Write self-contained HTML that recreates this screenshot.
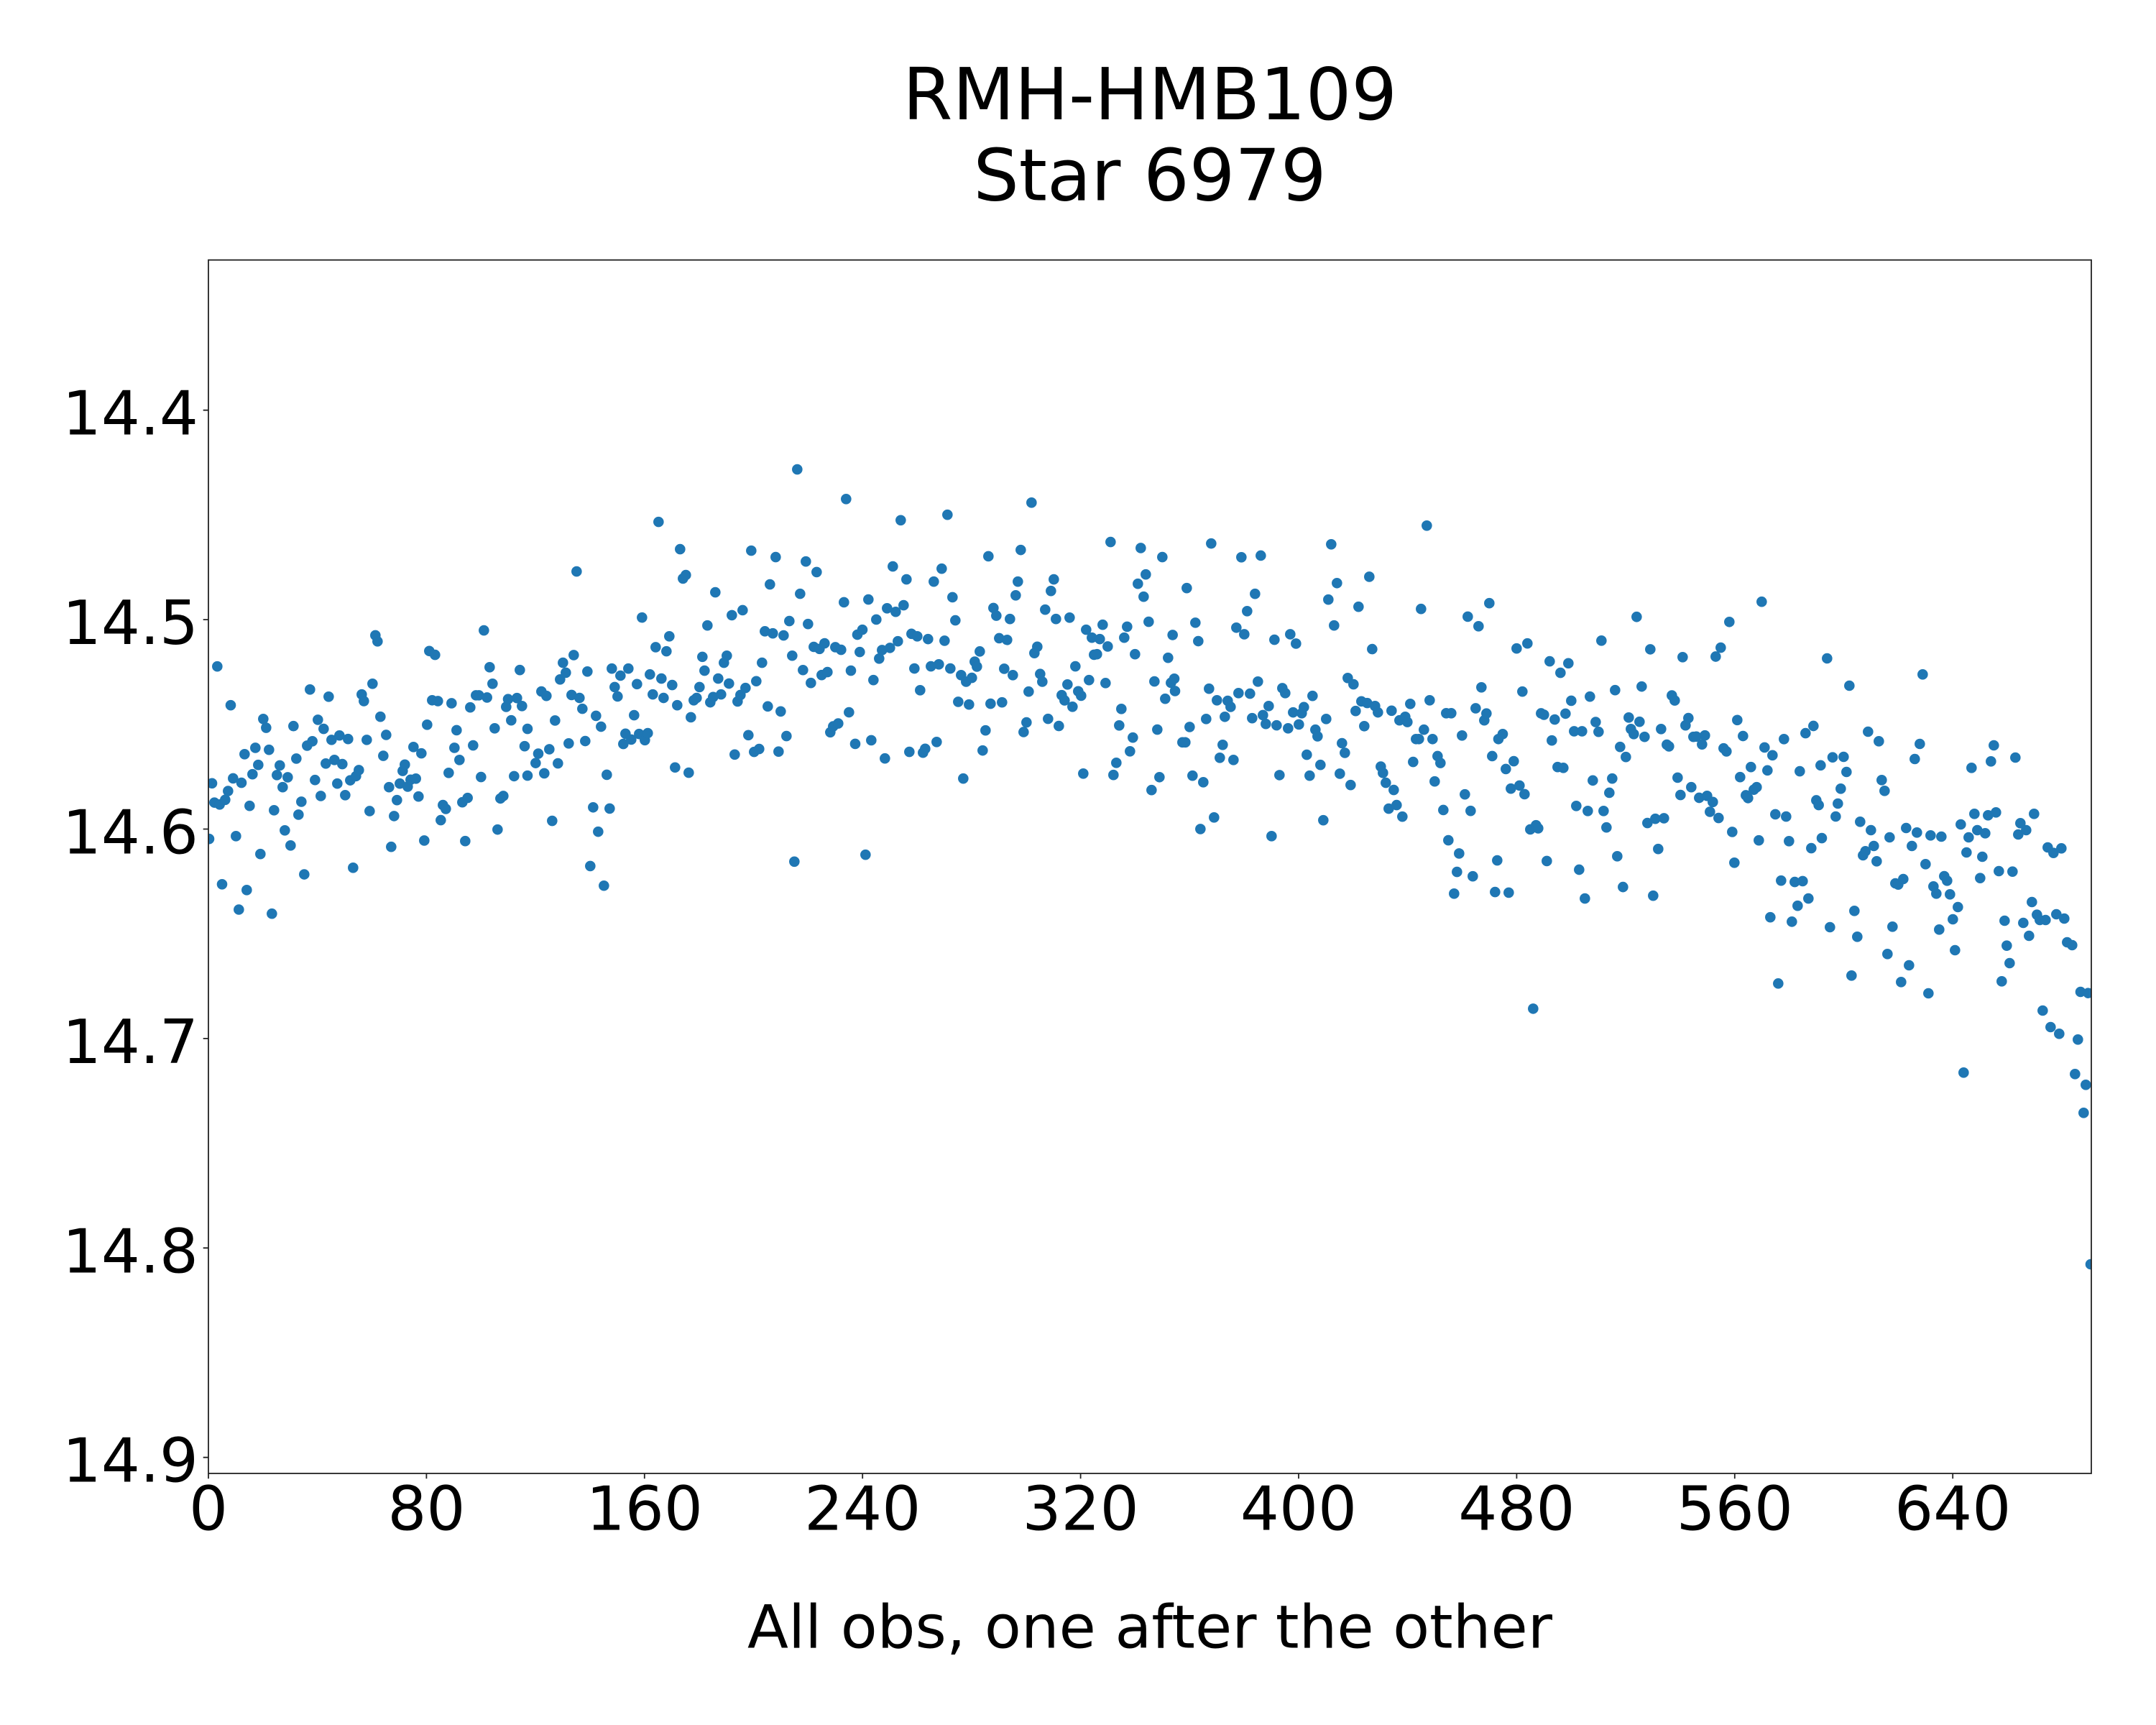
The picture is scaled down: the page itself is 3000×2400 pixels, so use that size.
<!DOCTYPE html>
<html><head><meta charset="utf-8"><style>html,body{margin:0;padding:0;background:#fff}svg{display:block}</style></head>
<body>
<svg xmlns="http://www.w3.org/2000/svg" width="3000" height="2400" viewBox="0 0 3000 2400">
<rect width="3000" height="2400" fill="#fff"/>
<defs><clipPath id="c"><rect x="290" y="361.7" width="2620" height="1688.3"/></clipPath></defs>
<g clip-path="url(#c)" fill="#1f77b4">
<g transform="translate(285 750) scale(0.333333 0.382702)">
<ellipse cx="30" cy="888" rx="21.9" ry="19.1"/><ellipse cx="52" cy="463" rx="21.9" ry="19.1"/><ellipse cx="18" cy="1090" rx="21.9" ry="19.1"/><ellipse cx="40" cy="958" rx="21.9" ry="19.1"/><ellipse cx="62" cy="965" rx="21.9" ry="19.1"/><ellipse cx="85" cy="948" rx="21.9" ry="19.1"/><ellipse cx="97" cy="916" rx="21.9" ry="19.1"/><ellipse cx="108" cy="604" rx="21.9" ry="19.1"/><ellipse cx="118" cy="870" rx="21.9" ry="19.1"/><ellipse cx="72" cy="1255" rx="21.9" ry="19.1"/><ellipse cx="130" cy="1080" rx="21.9" ry="19.1"/><ellipse cx="142" cy="1347" rx="21.9" ry="19.1"/><ellipse cx="153" cy="886" rx="21.9" ry="19.1"/><ellipse cx="166" cy="782" rx="21.9" ry="19.1"/><ellipse cx="175" cy="1276" rx="21.9" ry="19.1"/><ellipse cx="187" cy="970" rx="21.9" ry="19.1"/><ellipse cx="199" cy="855" rx="21.9" ry="19.1"/><ellipse cx="211" cy="759" rx="21.9" ry="19.1"/><ellipse cx="223" cy="821" rx="21.9" ry="19.1"/><ellipse cx="232" cy="1145" rx="21.9" ry="19.1"/><ellipse cx="244" cy="654" rx="21.9" ry="19.1"/><ellipse cx="256" cy="686" rx="21.9" ry="19.1"/><ellipse cx="268" cy="766" rx="21.9" ry="19.1"/><ellipse cx="280" cy="1362" rx="21.9" ry="19.1"/><ellipse cx="289" cy="986" rx="21.9" ry="19.1"/><ellipse cx="301" cy="858" rx="21.9" ry="19.1"/><ellipse cx="313" cy="823" rx="21.9" ry="19.1"/><ellipse cx="325" cy="902" rx="21.9" ry="19.1"/><ellipse cx="334" cy="1059" rx="21.9" ry="19.1"/><ellipse cx="346" cy="866" rx="21.9" ry="19.1"/><ellipse cx="358" cy="1114" rx="21.9" ry="19.1"/><ellipse cx="370" cy="680" rx="21.9" ry="19.1"/><ellipse cx="382" cy="798" rx="21.9" ry="19.1"/><ellipse cx="391" cy="1002" rx="21.9" ry="19.1"/><ellipse cx="403" cy="955" rx="21.9" ry="19.1"/><ellipse cx="415" cy="1219" rx="21.9" ry="19.1"/><ellipse cx="427" cy="751" rx="21.9" ry="19.1"/><ellipse cx="439" cy="547" rx="21.9" ry="19.1"/><ellipse cx="449" cy="735" rx="21.9" ry="19.1"/><ellipse cx="460" cy="876" rx="21.9" ry="19.1"/><ellipse cx="472" cy="657" rx="21.9" ry="19.1"/><ellipse cx="484" cy="934" rx="21.9" ry="19.1"/><ellipse cx="496" cy="690" rx="21.9" ry="19.1"/><ellipse cx="505" cy="816" rx="21.9" ry="19.1"/><ellipse cx="517" cy="573" rx="21.9" ry="19.1"/><ellipse cx="529" cy="730" rx="21.9" ry="19.1"/><ellipse cx="541" cy="803" rx="21.9" ry="19.1"/><ellipse cx="553" cy="889" rx="21.9" ry="19.1"/><ellipse cx="562" cy="714" rx="21.9" ry="19.1"/><ellipse cx="574" cy="818" rx="21.9" ry="19.1"/><ellipse cx="586" cy="931" rx="21.9" ry="19.1"/><ellipse cx="598" cy="727" rx="21.9" ry="19.1"/><ellipse cx="607" cy="877" rx="21.9" ry="19.1"/><ellipse cx="619" cy="1195" rx="21.9" ry="19.1"/><ellipse cx="631" cy="862" rx="21.9" ry="19.1"/><ellipse cx="643" cy="840" rx="21.9" ry="19.1"/><ellipse cx="655" cy="565" rx="21.9" ry="19.1"/><ellipse cx="664" cy="589" rx="21.9" ry="19.1"/><ellipse cx="676" cy="730" rx="21.9" ry="19.1"/><ellipse cx="688" cy="989" rx="21.9" ry="19.1"/><ellipse cx="700" cy="526" rx="21.9" ry="19.1"/><ellipse cx="712" cy="350" rx="21.9" ry="19.1"/><ellipse cx="721" cy="372" rx="21.9" ry="19.1"/><ellipse cx="733" cy="646" rx="21.9" ry="19.1"/><ellipse cx="745" cy="788" rx="21.9" ry="19.1"/><ellipse cx="757" cy="712" rx="21.9" ry="19.1"/><ellipse cx="769" cy="902" rx="21.9" ry="19.1"/><ellipse cx="778" cy="1119" rx="21.9" ry="19.1"/><ellipse cx="790" cy="1007" rx="21.9" ry="19.1"/><ellipse cx="802" cy="949" rx="21.9" ry="19.1"/><ellipse cx="814" cy="889" rx="21.9" ry="19.1"/><ellipse cx="826" cy="843" rx="21.9" ry="19.1"/><ellipse cx="835" cy="820" rx="21.9" ry="19.1"/><ellipse cx="847" cy="900" rx="21.9" ry="19.1"/><ellipse cx="859" cy="875" rx="21.9" ry="19.1"/><ellipse cx="871" cy="756" rx="21.9" ry="19.1"/><ellipse cx="881" cy="871" rx="21.9" ry="19.1"/><ellipse cx="892" cy="936" rx="21.9" ry="19.1"/><ellipse cx="904" cy="779" rx="21.9" ry="19.1"/><ellipse cx="916" cy="1096" rx="21.9" ry="19.1"/><ellipse cx="928" cy="675" rx="21.9" ry="19.1"/><ellipse cx="937" cy="407" rx="21.9" ry="19.1"/><ellipse cx="961" cy="421" rx="21.9" ry="19.1"/><ellipse cx="949" cy="586" rx="21.9" ry="19.1"/><ellipse cx="973" cy="589" rx="21.9" ry="19.1"/><ellipse cx="985" cy="1022" rx="21.9" ry="19.1"/><ellipse cx="994" cy="967" rx="21.9" ry="19.1"/><ellipse cx="1006" cy="981" rx="21.9" ry="19.1"/><ellipse cx="1018" cy="850" rx="21.9" ry="19.1"/><ellipse cx="1030" cy="597" rx="21.9" ry="19.1"/><ellipse cx="1042" cy="759" rx="21.9" ry="19.1"/><ellipse cx="1051" cy="695" rx="21.9" ry="19.1"/><ellipse cx="1063" cy="803" rx="21.9" ry="19.1"/><ellipse cx="1075" cy="957" rx="21.9" ry="19.1"/><ellipse cx="1087" cy="1098" rx="21.9" ry="19.1"/><ellipse cx="1097" cy="941" rx="21.9" ry="19.1"/><ellipse cx="1108" cy="612" rx="21.9" ry="19.1"/><ellipse cx="1120" cy="750" rx="21.9" ry="19.1"/><ellipse cx="1132" cy="568" rx="21.9" ry="19.1"/><ellipse cx="1144" cy="568" rx="21.9" ry="19.1"/><ellipse cx="1153" cy="865" rx="21.9" ry="19.1"/><ellipse cx="1165" cy="332" rx="21.9" ry="19.1"/><ellipse cx="1178" cy="576" rx="21.9" ry="19.1"/><ellipse cx="1189" cy="466" rx="21.9" ry="19.1"/><ellipse cx="1201" cy="526" rx="21.9" ry="19.1"/><ellipse cx="1210" cy="688" rx="21.9" ry="19.1"/><ellipse cx="1222" cy="1056" rx="21.9" ry="19.1"/><ellipse cx="1234" cy="943" rx="21.9" ry="19.1"/><ellipse cx="1246" cy="934" rx="21.9" ry="19.1"/><ellipse cx="1258" cy="610" rx="21.9" ry="19.1"/><ellipse cx="1266" cy="582" rx="21.9" ry="19.1"/><ellipse cx="1279" cy="659" rx="21.9" ry="19.1"/><ellipse cx="1291" cy="862" rx="21.9" ry="19.1"/><ellipse cx="1303" cy="578" rx="21.9" ry="19.1"/><ellipse cx="1315" cy="476" rx="21.9" ry="19.1"/><ellipse cx="1324" cy="607" rx="21.9" ry="19.1"/><ellipse cx="1335" cy="753" rx="21.9" ry="19.1"/><ellipse cx="1347" cy="690" rx="21.9" ry="19.1"/><ellipse cx="1347" cy="860" rx="21.9" ry="19.1"/>
</g>
<g transform="translate(735 620) scale(0.333333 0.408163)">
<ellipse cx="42" cy="1050" rx="21.9" ry="17.9"/><ellipse cx="31" cy="1082" rx="21.9" ry="17.9"/><ellipse cx="55" cy="838" rx="21.9" ry="17.9"/><ellipse cx="76" cy="853" rx="21.9" ry="17.9"/><ellipse cx="67" cy="1117" rx="21.9" ry="17.9"/><ellipse cx="88" cy="1035" rx="21.9" ry="17.9"/><ellipse cx="100" cy="1279" rx="21.9" ry="17.9"/><ellipse cx="112" cy="937" rx="21.9" ry="17.9"/><ellipse cx="124" cy="1083" rx="21.9" ry="17.9"/><ellipse cx="133" cy="797" rx="21.9" ry="17.9"/><ellipse cx="145" cy="740" rx="21.9" ry="17.9"/><ellipse cx="157" cy="774" rx="21.9" ry="17.9"/><ellipse cx="169" cy="1015" rx="21.9" ry="17.9"/><ellipse cx="181" cy="850" rx="21.9" ry="17.9"/><ellipse cx="190" cy="714" rx="21.9" ry="17.9"/><ellipse cx="202" cy="429" rx="21.9" ry="17.9"/><ellipse cx="214" cy="860" rx="21.9" ry="17.9"/><ellipse cx="226" cy="897" rx="21.9" ry="17.9"/><ellipse cx="238" cy="1007" rx="21.9" ry="17.9"/><ellipse cx="247" cy="770" rx="21.9" ry="17.9"/><ellipse cx="259" cy="1433" rx="21.9" ry="17.9"/><ellipse cx="271" cy="1233" rx="21.9" ry="17.9"/><ellipse cx="283" cy="921" rx="21.9" ry="17.9"/><ellipse cx="292" cy="1316" rx="21.9" ry="17.9"/><ellipse cx="304" cy="958" rx="21.9" ry="17.9"/><ellipse cx="316" cy="1500" rx="21.9" ry="17.9"/><ellipse cx="328" cy="1122" rx="21.9" ry="17.9"/><ellipse cx="340" cy="1237" rx="21.9" ry="17.9"/><ellipse cx="349" cy="760" rx="21.9" ry="17.9"/><ellipse cx="361" cy="823" rx="21.9" ry="17.9"/><ellipse cx="373" cy="855" rx="21.9" ry="17.9"/><ellipse cx="385" cy="784" rx="21.9" ry="17.9"/><ellipse cx="397" cy="1017" rx="21.9" ry="17.9"/><ellipse cx="406" cy="982" rx="21.9" ry="17.9"/><ellipse cx="418" cy="760" rx="21.9" ry="17.9"/><ellipse cx="430" cy="1002" rx="21.9" ry="17.9"/><ellipse cx="442" cy="919" rx="21.9" ry="17.9"/><ellipse cx="454" cy="813" rx="21.9" ry="17.9"/><ellipse cx="463" cy="983" rx="21.9" ry="17.9"/><ellipse cx="475" cy="586" rx="21.9" ry="17.9"/><ellipse cx="487" cy="1004" rx="21.9" ry="17.9"/><ellipse cx="499" cy="980" rx="21.9" ry="17.9"/><ellipse cx="508" cy="780" rx="21.9" ry="17.9"/><ellipse cx="520" cy="848" rx="21.9" ry="17.9"/><ellipse cx="532" cy="687" rx="21.9" ry="17.9"/><ellipse cx="544" cy="260" rx="21.9" ry="17.9"/><ellipse cx="556" cy="794" rx="21.9" ry="17.9"/><ellipse cx="565" cy="860" rx="21.9" ry="17.9"/><ellipse cx="577" cy="701" rx="21.9" ry="17.9"/><ellipse cx="589" cy="650" rx="21.9" ry="17.9"/><ellipse cx="601" cy="816" rx="21.9" ry="17.9"/><ellipse cx="613" cy="1097" rx="21.9" ry="17.9"/><ellipse cx="622" cy="885" rx="21.9" ry="17.9"/><ellipse cx="634" cy="353" rx="21.9" ry="17.9"/><ellipse cx="646" cy="453" rx="21.9" ry="17.9"/><ellipse cx="658" cy="441" rx="21.9" ry="17.9"/><ellipse cx="670" cy="1115" rx="21.9" ry="17.9"/><ellipse cx="679" cy="926" rx="21.9" ry="17.9"/><ellipse cx="691" cy="868" rx="21.9" ry="17.9"/><ellipse cx="703" cy="860" rx="21.9" ry="17.9"/><ellipse cx="715" cy="823" rx="21.9" ry="17.9"/><ellipse cx="727" cy="720" rx="21.9" ry="17.9"/><ellipse cx="736" cy="767" rx="21.9" ry="17.9"/><ellipse cx="748" cy="613" rx="21.9" ry="17.9"/><ellipse cx="760" cy="875" rx="21.9" ry="17.9"/><ellipse cx="772" cy="857" rx="21.9" ry="17.9"/><ellipse cx="781" cy="500" rx="21.9" ry="17.9"/><ellipse cx="793" cy="794" rx="21.9" ry="17.9"/><ellipse cx="805" cy="848" rx="21.9" ry="17.9"/><ellipse cx="817" cy="740" rx="21.9" ry="17.9"/><ellipse cx="829" cy="716" rx="21.9" ry="17.9"/><ellipse cx="838" cy="811" rx="21.9" ry="17.9"/><ellipse cx="850" cy="578" rx="21.9" ry="17.9"/><ellipse cx="862" cy="1053" rx="21.9" ry="17.9"/><ellipse cx="874" cy="872" rx="21.9" ry="17.9"/><ellipse cx="886" cy="850" rx="21.9" ry="17.9"/><ellipse cx="895" cy="561" rx="21.9" ry="17.9"/><ellipse cx="907" cy="826" rx="21.9" ry="17.9"/><ellipse cx="919" cy="987" rx="21.9" ry="17.9"/><ellipse cx="931" cy="358" rx="21.9" ry="17.9"/><ellipse cx="943" cy="1044" rx="21.9" ry="17.9"/><ellipse cx="952" cy="803" rx="21.9" ry="17.9"/><ellipse cx="964" cy="1034" rx="21.9" ry="17.9"/><ellipse cx="976" cy="740" rx="21.9" ry="17.9"/><ellipse cx="988" cy="633" rx="21.9" ry="17.9"/><ellipse cx="1000" cy="889" rx="21.9" ry="17.9"/><ellipse cx="1009" cy="473" rx="21.9" ry="17.9"/><ellipse cx="1021" cy="640" rx="21.9" ry="17.9"/><ellipse cx="1033" cy="380" rx="21.9" ry="17.9"/><ellipse cx="1045" cy="1043" rx="21.9" ry="17.9"/><ellipse cx="1054" cy="906" rx="21.9" ry="17.9"/><ellipse cx="1066" cy="647" rx="21.9" ry="17.9"/><ellipse cx="1078" cy="990" rx="21.9" ry="17.9"/><ellipse cx="1090" cy="598" rx="21.9" ry="17.9"/><ellipse cx="1102" cy="716" rx="21.9" ry="17.9"/><ellipse cx="1111" cy="1418" rx="21.9" ry="17.9"/><ellipse cx="1123" cy="81" rx="21.9" ry="17.9"/><ellipse cx="1135" cy="505" rx="21.9" ry="17.9"/><ellipse cx="1147" cy="765" rx="21.9" ry="17.9"/><ellipse cx="1159" cy="395" rx="21.9" ry="17.9"/><ellipse cx="1168" cy="608" rx="21.9" ry="17.9"/><ellipse cx="1180" cy="809" rx="21.9" ry="17.9"/><ellipse cx="1192" cy="686" rx="21.9" ry="17.9"/><ellipse cx="1204" cy="431" rx="21.9" ry="17.9"/><ellipse cx="1216" cy="693" rx="21.9" ry="17.9"/><ellipse cx="1225" cy="782" rx="21.9" ry="17.9"/><ellipse cx="1237" cy="674" rx="21.9" ry="17.9"/><ellipse cx="1249" cy="772" rx="21.9" ry="17.9"/><ellipse cx="1261" cy="977" rx="21.9" ry="17.9"/><ellipse cx="1273" cy="957" rx="21.9" ry="17.9"/><ellipse cx="1282" cy="687" rx="21.9" ry="17.9"/><ellipse cx="1294" cy="947" rx="21.9" ry="17.9"/><ellipse cx="1306" cy="696" rx="21.9" ry="17.9"/><ellipse cx="1318" cy="534" rx="21.9" ry="17.9"/><ellipse cx="1327" cy="182" rx="21.9" ry="17.9"/><ellipse cx="1339" cy="909" rx="21.9" ry="17.9"/><ellipse cx="1347" cy="767" rx="21.9" ry="17.9"/>
</g>
<g transform="translate(1185 640) scale(0.333333 0.382702)">
<ellipse cx="15" cy="1032" rx="21.9" ry="19.1"/><ellipse cx="24" cy="635" rx="21.9" ry="19.1"/><ellipse cx="45" cy="617" rx="21.9" ry="19.1"/><ellipse cx="34" cy="698" rx="21.9" ry="19.1"/><ellipse cx="58" cy="1435" rx="21.9" ry="19.1"/><ellipse cx="70" cy="507" rx="21.9" ry="19.1"/><ellipse cx="82" cy="1019" rx="21.9" ry="19.1"/><ellipse cx="91" cy="800" rx="21.9" ry="19.1"/><ellipse cx="103" cy="580" rx="21.9" ry="19.1"/><ellipse cx="115" cy="722" rx="21.9" ry="19.1"/><ellipse cx="127" cy="691" rx="21.9" ry="19.1"/><ellipse cx="139" cy="1085" rx="21.9" ry="19.1"/><ellipse cx="148" cy="539" rx="21.9" ry="19.1"/><ellipse cx="160" cy="683" rx="21.9" ry="19.1"/><ellipse cx="172" cy="387" rx="21.9" ry="19.1"/><ellipse cx="184" cy="552" rx="21.9" ry="19.1"/><ellipse cx="193" cy="659" rx="21.9" ry="19.1"/><ellipse cx="205" cy="219" rx="21.9" ry="19.1"/><ellipse cx="217" cy="528" rx="21.9" ry="19.1"/><ellipse cx="229" cy="434" rx="21.9" ry="19.1"/><ellipse cx="241" cy="1061" rx="21.9" ry="19.1"/><ellipse cx="250" cy="632" rx="21.9" ry="19.1"/><ellipse cx="262" cy="758" rx="21.9" ry="19.1"/><ellipse cx="274" cy="641" rx="21.9" ry="19.1"/><ellipse cx="286" cy="837" rx="21.9" ry="19.1"/><ellipse cx="298" cy="1064" rx="21.9" ry="19.1"/><ellipse cx="307" cy="1050" rx="21.9" ry="19.1"/><ellipse cx="319" cy="651" rx="21.9" ry="19.1"/><ellipse cx="331" cy="750" rx="21.9" ry="19.1"/><ellipse cx="343" cy="442" rx="21.9" ry="19.1"/><ellipse cx="355" cy="1025" rx="21.9" ry="19.1"/><ellipse cx="364" cy="743" rx="21.9" ry="19.1"/><ellipse cx="376" cy="395" rx="21.9" ry="19.1"/><ellipse cx="388" cy="657" rx="21.9" ry="19.1"/><ellipse cx="400" cy="199" rx="21.9" ry="19.1"/><ellipse cx="412" cy="758" rx="21.9" ry="19.1"/><ellipse cx="421" cy="499" rx="21.9" ry="19.1"/><ellipse cx="433" cy="583" rx="21.9" ry="19.1"/><ellipse cx="445" cy="879" rx="21.9" ry="19.1"/><ellipse cx="457" cy="782" rx="21.9" ry="19.1"/><ellipse cx="466" cy="1158" rx="21.9" ry="19.1"/><ellipse cx="478" cy="806" rx="21.9" ry="19.1"/><ellipse cx="490" cy="889" rx="21.9" ry="19.1"/><ellipse cx="502" cy="792" rx="21.9" ry="19.1"/><ellipse cx="514" cy="733" rx="21.9" ry="19.1"/><ellipse cx="523" cy="751" rx="21.9" ry="19.1"/><ellipse cx="535" cy="696" rx="21.9" ry="19.1"/><ellipse cx="547" cy="1056" rx="21.9" ry="19.1"/><ellipse cx="559" cy="983" rx="21.9" ry="19.1"/><ellipse cx="571" cy="350" rx="21.9" ry="19.1"/><ellipse cx="580" cy="886" rx="21.9" ry="19.1"/><ellipse cx="592" cy="538" rx="21.9" ry="19.1"/><ellipse cx="604" cy="566" rx="21.9" ry="19.1"/><ellipse cx="616" cy="648" rx="21.9" ry="19.1"/><ellipse cx="628" cy="881" rx="21.9" ry="19.1"/><ellipse cx="637" cy="759" rx="21.9" ry="19.1"/><ellipse cx="649" cy="654" rx="21.9" ry="19.1"/><ellipse cx="661" cy="578" rx="21.9" ry="19.1"/><ellipse cx="673" cy="782" rx="21.9" ry="19.1"/><ellipse cx="685" cy="492" rx="21.9" ry="19.1"/><ellipse cx="694" cy="442" rx="21.9" ry="19.1"/><ellipse cx="706" cy="327" rx="21.9" ry="19.1"/><ellipse cx="718" cy="989" rx="21.9" ry="19.1"/><ellipse cx="730" cy="954" rx="21.9" ry="19.1"/><ellipse cx="739" cy="842" rx="21.9" ry="19.1"/><ellipse cx="751" cy="155" rx="21.9" ry="19.1"/><ellipse cx="763" cy="702" rx="21.9" ry="19.1"/><ellipse cx="775" cy="679" rx="21.9" ry="19.1"/><ellipse cx="787" cy="778" rx="21.9" ry="19.1"/><ellipse cx="796" cy="806" rx="21.9" ry="19.1"/><ellipse cx="808" cy="544" rx="21.9" ry="19.1"/><ellipse cx="820" cy="941" rx="21.9" ry="19.1"/><ellipse cx="832" cy="476" rx="21.9" ry="19.1"/><ellipse cx="844" cy="434" rx="21.9" ry="19.1"/><ellipse cx="853" cy="578" rx="21.9" ry="19.1"/><ellipse cx="865" cy="967" rx="21.9" ry="19.1"/><ellipse cx="877" cy="855" rx="21.9" ry="19.1"/><ellipse cx="889" cy="874" rx="21.9" ry="19.1"/><ellipse cx="901" cy="816" rx="21.9" ry="19.1"/><ellipse cx="910" cy="573" rx="21.9" ry="19.1"/><ellipse cx="922" cy="897" rx="21.9" ry="19.1"/><ellipse cx="934" cy="750" rx="21.9" ry="19.1"/><ellipse cx="946" cy="841" rx="21.9" ry="19.1"/><ellipse cx="958" cy="857" rx="21.9" ry="19.1"/><ellipse cx="967" cy="1140" rx="21.9" ry="19.1"/><ellipse cx="979" cy="617" rx="21.9" ry="19.1"/><ellipse cx="991" cy="800" rx="21.9" ry="19.1"/><ellipse cx="1003" cy="646" rx="21.9" ry="19.1"/><ellipse cx="1012" cy="708" rx="21.9" ry="19.1"/><ellipse cx="1024" cy="706" rx="21.9" ry="19.1"/><ellipse cx="1036" cy="651" rx="21.9" ry="19.1"/><ellipse cx="1048" cy="599" rx="21.9" ry="19.1"/><ellipse cx="1060" cy="811" rx="21.9" ry="19.1"/><ellipse cx="1069" cy="678" rx="21.9" ry="19.1"/><ellipse cx="1081" cy="298" rx="21.9" ry="19.1"/><ellipse cx="1093" cy="1145" rx="21.9" ry="19.1"/><ellipse cx="1105" cy="1101" rx="21.9" ry="19.1"/><ellipse cx="1117" cy="965" rx="21.9" ry="19.1"/><ellipse cx="1126" cy="905" rx="21.9" ry="19.1"/><ellipse cx="1138" cy="646" rx="21.9" ry="19.1"/><ellipse cx="1150" cy="606" rx="21.9" ry="19.1"/><ellipse cx="1162" cy="1059" rx="21.9" ry="19.1"/><ellipse cx="1174" cy="1009" rx="21.9" ry="19.1"/><ellipse cx="1183" cy="706" rx="21.9" ry="19.1"/><ellipse cx="1195" cy="450" rx="21.9" ry="19.1"/><ellipse cx="1207" cy="320" rx="21.9" ry="19.1"/><ellipse cx="1219" cy="497" rx="21.9" ry="19.1"/><ellipse cx="1228" cy="416" rx="21.9" ry="19.1"/><ellipse cx="1240" cy="588" rx="21.9" ry="19.1"/><ellipse cx="1252" cy="1200" rx="21.9" ry="19.1"/><ellipse cx="1264" cy="805" rx="21.9" ry="19.1"/><ellipse cx="1276" cy="980" rx="21.9" ry="19.1"/><ellipse cx="1285" cy="1153" rx="21.9" ry="19.1"/><ellipse cx="1297" cy="353" rx="21.9" ry="19.1"/><ellipse cx="1309" cy="868" rx="21.9" ry="19.1"/><ellipse cx="1321" cy="719" rx="21.9" ry="19.1"/><ellipse cx="1333" cy="810" rx="21.9" ry="19.1"/><ellipse cx="1340" cy="636" rx="21.9" ry="19.1"/><ellipse cx="1347" cy="795" rx="21.9" ry="19.1"/><ellipse cx="1350" cy="840" rx="21.9" ry="19.1"/>
</g>
<g transform="translate(1635 680) scale(0.333333 0.382702)">
<ellipse cx="31" cy="922" rx="21.9" ry="19.1"/><ellipse cx="43" cy="922" rx="21.9" ry="19.1"/><ellipse cx="49" cy="361" rx="21.9" ry="19.1"/><ellipse cx="61" cy="866" rx="21.9" ry="19.1"/><ellipse cx="73" cy="1043" rx="21.9" ry="19.1"/><ellipse cx="85" cy="487" rx="21.9" ry="19.1"/><ellipse cx="97" cy="554" rx="21.9" ry="19.1"/><ellipse cx="106" cy="1237" rx="21.9" ry="19.1"/><ellipse cx="118" cy="1067" rx="21.9" ry="19.1"/><ellipse cx="130" cy="837" rx="21.9" ry="19.1"/><ellipse cx="142" cy="727" rx="21.9" ry="19.1"/><ellipse cx="151" cy="199" rx="21.9" ry="19.1"/><ellipse cx="163" cy="1195" rx="21.9" ry="19.1"/><ellipse cx="175" cy="769" rx="21.9" ry="19.1"/><ellipse cx="187" cy="978" rx="21.9" ry="19.1"/><ellipse cx="199" cy="931" rx="21.9" ry="19.1"/><ellipse cx="208" cy="829" rx="21.9" ry="19.1"/><ellipse cx="220" cy="771" rx="21.9" ry="19.1"/><ellipse cx="232" cy="793" rx="21.9" ry="19.1"/><ellipse cx="244" cy="986" rx="21.9" ry="19.1"/><ellipse cx="256" cy="505" rx="21.9" ry="19.1"/><ellipse cx="265" cy="743" rx="21.9" ry="19.1"/><ellipse cx="277" cy="249" rx="21.9" ry="19.1"/><ellipse cx="289" cy="529" rx="21.9" ry="19.1"/><ellipse cx="301" cy="445" rx="21.9" ry="19.1"/><ellipse cx="313" cy="745" rx="21.9" ry="19.1"/><ellipse cx="322" cy="834" rx="21.9" ry="19.1"/><ellipse cx="334" cy="382" rx="21.9" ry="19.1"/><ellipse cx="346" cy="701" rx="21.9" ry="19.1"/><ellipse cx="358" cy="243" rx="21.9" ry="19.1"/><ellipse cx="367" cy="823" rx="21.9" ry="19.1"/><ellipse cx="379" cy="855" rx="21.9" ry="19.1"/><ellipse cx="391" cy="790" rx="21.9" ry="19.1"/><ellipse cx="403" cy="1263" rx="21.9" ry="19.1"/><ellipse cx="415" cy="549" rx="21.9" ry="19.1"/><ellipse cx="424" cy="860" rx="21.9" ry="19.1"/><ellipse cx="436" cy="1041" rx="21.9" ry="19.1"/><ellipse cx="448" cy="725" rx="21.9" ry="19.1"/><ellipse cx="460" cy="743" rx="21.9" ry="19.1"/><ellipse cx="472" cy="871" rx="21.9" ry="19.1"/><ellipse cx="481" cy="529" rx="21.9" ry="19.1"/><ellipse cx="493" cy="813" rx="21.9" ry="19.1"/><ellipse cx="505" cy="563" rx="21.9" ry="19.1"/><ellipse cx="517" cy="857" rx="21.9" ry="19.1"/><ellipse cx="529" cy="816" rx="21.9" ry="19.1"/><ellipse cx="538" cy="794" rx="21.9" ry="19.1"/><ellipse cx="550" cy="967" rx="21.9" ry="19.1"/><ellipse cx="562" cy="1043" rx="21.9" ry="19.1"/><ellipse cx="574" cy="753" rx="21.9" ry="19.1"/><ellipse cx="586" cy="876" rx="21.9" ry="19.1"/><ellipse cx="595" cy="900" rx="21.9" ry="19.1"/><ellipse cx="607" cy="1004" rx="21.9" ry="19.1"/><ellipse cx="619" cy="1205" rx="21.9" ry="19.1"/><ellipse cx="631" cy="837" rx="21.9" ry="19.1"/><ellipse cx="640" cy="403" rx="21.9" ry="19.1"/><ellipse cx="652" cy="202" rx="21.9" ry="19.1"/><ellipse cx="664" cy="497" rx="21.9" ry="19.1"/><ellipse cx="676" cy="343" rx="21.9" ry="19.1"/><ellipse cx="688" cy="1036" rx="21.9" ry="19.1"/><ellipse cx="697" cy="925" rx="21.9" ry="19.1"/><ellipse cx="709" cy="960" rx="21.9" ry="19.1"/><ellipse cx="721" cy="688" rx="21.9" ry="19.1"/><ellipse cx="733" cy="1077" rx="21.9" ry="19.1"/><ellipse cx="745" cy="711" rx="21.9" ry="19.1"/><ellipse cx="754" cy="808" rx="21.9" ry="19.1"/><ellipse cx="766" cy="429" rx="21.9" ry="19.1"/><ellipse cx="778" cy="773" rx="21.9" ry="19.1"/><ellipse cx="790" cy="863" rx="21.9" ry="19.1"/><ellipse cx="802" cy="779" rx="21.9" ry="19.1"/><ellipse cx="811" cy="320" rx="21.9" ry="19.1"/><ellipse cx="823" cy="583" rx="21.9" ry="19.1"/><ellipse cx="835" cy="790" rx="21.9" ry="19.1"/><ellipse cx="847" cy="813" rx="21.9" ry="19.1"/><ellipse cx="859" cy="1010" rx="21.9" ry="19.1"/><ellipse cx="868" cy="1033" rx="21.9" ry="19.1"/><ellipse cx="880" cy="1069" rx="21.9" ry="19.1"/><ellipse cx="892" cy="1163" rx="21.9" ry="19.1"/><ellipse cx="904" cy="807" rx="21.9" ry="19.1"/><ellipse cx="913" cy="1095" rx="21.9" ry="19.1"/><ellipse cx="925" cy="1150" rx="21.9" ry="19.1"/><ellipse cx="937" cy="842" rx="21.9" ry="19.1"/><ellipse cx="949" cy="1192" rx="21.9" ry="19.1"/><ellipse cx="961" cy="829" rx="21.9" ry="19.1"/><ellipse cx="970" cy="848" rx="21.9" ry="19.1"/><ellipse cx="982" cy="782" rx="21.9" ry="19.1"/><ellipse cx="994" cy="993" rx="21.9" ry="19.1"/><ellipse cx="1006" cy="910" rx="21.9" ry="19.1"/><ellipse cx="1018" cy="910" rx="21.9" ry="19.1"/><ellipse cx="1027" cy="437" rx="21.9" ry="19.1"/><ellipse cx="1039" cy="876" rx="21.9" ry="19.1"/><ellipse cx="1051" cy="134" rx="21.9" ry="19.1"/><ellipse cx="1063" cy="769" rx="21.9" ry="19.1"/><ellipse cx="1075" cy="910" rx="21.9" ry="19.1"/><ellipse cx="1084" cy="1064" rx="21.9" ry="19.1"/><ellipse cx="1096" cy="972" rx="21.9" ry="19.1"/><ellipse cx="1108" cy="997" rx="21.9" ry="19.1"/><ellipse cx="1120" cy="1168" rx="21.9" ry="19.1"/><ellipse cx="1132" cy="816" rx="21.9" ry="19.1"/><ellipse cx="1141" cy="1278" rx="21.9" ry="19.1"/><ellipse cx="1153" cy="816" rx="21.9" ry="19.1"/><ellipse cx="1165" cy="1472" rx="21.9" ry="19.1"/><ellipse cx="1177" cy="1393" rx="21.9" ry="19.1"/><ellipse cx="1186" cy="1326" rx="21.9" ry="19.1"/><ellipse cx="1198" cy="897" rx="21.9" ry="19.1"/><ellipse cx="1210" cy="1111" rx="21.9" ry="19.1"/><ellipse cx="1222" cy="465" rx="21.9" ry="19.1"/><ellipse cx="1234" cy="1171" rx="21.9" ry="19.1"/><ellipse cx="1243" cy="1409" rx="21.9" ry="19.1"/><ellipse cx="1255" cy="798" rx="21.9" ry="19.1"/><ellipse cx="1267" cy="500" rx="21.9" ry="19.1"/><ellipse cx="1279" cy="722" rx="21.9" ry="19.1"/><ellipse cx="1291" cy="842" rx="21.9" ry="19.1"/><ellipse cx="1300" cy="817" rx="21.9" ry="19.1"/><ellipse cx="1312" cy="416" rx="21.9" ry="19.1"/><ellipse cx="1324" cy="972" rx="21.9" ry="19.1"/><ellipse cx="1336" cy="1466" rx="21.9" ry="19.1"/><ellipse cx="1345" cy="1351" rx="21.9" ry="19.1"/><ellipse cx="1350" cy="910" rx="21.9" ry="19.1"/>
</g>
<g transform="translate(2085 810) scale(0.333333 0.389105)">
<ellipse cx="18" cy="543" rx="21.9" ry="18.8"/><ellipse cx="31" cy="668" rx="21.9" ry="18.8"/><ellipse cx="43" cy="1110" rx="21.9" ry="18.8"/><ellipse cx="52" cy="738" rx="21.9" ry="18.8"/><ellipse cx="64" cy="640" rx="21.9" ry="18.8"/><ellipse cx="76" cy="237" rx="21.9" ry="18.8"/><ellipse cx="88" cy="727" rx="21.9" ry="18.8"/><ellipse cx="100" cy="391" rx="21.9" ry="18.8"/><ellipse cx="109" cy="758" rx="21.9" ry="18.8"/><ellipse cx="121" cy="219" rx="21.9" ry="18.8"/><ellipse cx="133" cy="884" rx="21.9" ry="18.8"/><ellipse cx="145" cy="1525" rx="21.9" ry="18.8"/><ellipse cx="157" cy="869" rx="21.9" ry="18.8"/><ellipse cx="166" cy="880" rx="21.9" ry="18.8"/><ellipse cx="178" cy="469" rx="21.9" ry="18.8"/><ellipse cx="190" cy="474" rx="21.9" ry="18.8"/><ellipse cx="202" cy="997" rx="21.9" ry="18.8"/><ellipse cx="214" cy="283" rx="21.9" ry="18.8"/><ellipse cx="223" cy="566" rx="21.9" ry="18.8"/><ellipse cx="235" cy="491" rx="21.9" ry="18.8"/><ellipse cx="247" cy="661" rx="21.9" ry="18.8"/><ellipse cx="259" cy="324" rx="21.9" ry="18.8"/><ellipse cx="271" cy="664" rx="21.9" ry="18.8"/><ellipse cx="280" cy="470" rx="21.9" ry="18.8"/><ellipse cx="292" cy="290" rx="21.9" ry="18.8"/><ellipse cx="304" cy="424" rx="21.9" ry="18.8"/><ellipse cx="316" cy="533" rx="21.9" ry="18.8"/><ellipse cx="325" cy="800" rx="21.9" ry="18.8"/><ellipse cx="337" cy="1028" rx="21.9" ry="18.8"/><ellipse cx="349" cy="533" rx="21.9" ry="18.8"/><ellipse cx="361" cy="1131" rx="21.9" ry="18.8"/><ellipse cx="373" cy="818" rx="21.9" ry="18.8"/><ellipse cx="382" cy="409" rx="21.9" ry="18.8"/><ellipse cx="394" cy="709" rx="21.9" ry="18.8"/><ellipse cx="406" cy="500" rx="21.9" ry="18.8"/><ellipse cx="418" cy="535" rx="21.9" ry="18.8"/><ellipse cx="430" cy="209" rx="21.9" ry="18.8"/><ellipse cx="439" cy="818" rx="21.9" ry="18.8"/><ellipse cx="451" cy="877" rx="21.9" ry="18.8"/><ellipse cx="463" cy="753" rx="21.9" ry="18.8"/><ellipse cx="475" cy="702" rx="21.9" ry="18.8"/><ellipse cx="487" cy="386" rx="21.9" ry="18.8"/><ellipse cx="496" cy="980" rx="21.9" ry="18.8"/><ellipse cx="508" cy="589" rx="21.9" ry="18.8"/><ellipse cx="520" cy="1090" rx="21.9" ry="18.8"/><ellipse cx="532" cy="625" rx="21.9" ry="18.8"/><ellipse cx="544" cy="484" rx="21.9" ry="18.8"/><ellipse cx="553" cy="525" rx="21.9" ry="18.8"/><ellipse cx="565" cy="543" rx="21.9" ry="18.8"/><ellipse cx="577" cy="124" rx="21.9" ry="18.8"/><ellipse cx="589" cy="499" rx="21.9" ry="18.8"/><ellipse cx="598" cy="373" rx="21.9" ry="18.8"/><ellipse cx="610" cy="553" rx="21.9" ry="18.8"/><ellipse cx="622" cy="861" rx="21.9" ry="18.8"/><ellipse cx="634" cy="240" rx="21.9" ry="18.8"/><ellipse cx="646" cy="1121" rx="21.9" ry="18.8"/><ellipse cx="655" cy="846" rx="21.9" ry="18.8"/><ellipse cx="667" cy="954" rx="21.9" ry="18.8"/><ellipse cx="679" cy="525" rx="21.9" ry="18.8"/><ellipse cx="691" cy="844" rx="21.9" ry="18.8"/><ellipse cx="703" cy="581" rx="21.9" ry="18.8"/><ellipse cx="712" cy="587" rx="21.9" ry="18.8"/><ellipse cx="724" cy="405" rx="21.9" ry="18.8"/><ellipse cx="736" cy="423" rx="21.9" ry="18.8"/><ellipse cx="748" cy="699" rx="21.9" ry="18.8"/><ellipse cx="760" cy="761" rx="21.9" ry="18.8"/><ellipse cx="769" cy="268" rx="21.9" ry="18.8"/><ellipse cx="781" cy="512" rx="21.9" ry="18.8"/><ellipse cx="793" cy="486" rx="21.9" ry="18.8"/><ellipse cx="805" cy="733" rx="21.9" ry="18.8"/><ellipse cx="814" cy="553" rx="21.9" ry="18.8"/><ellipse cx="826" cy="552" rx="21.9" ry="18.8"/><ellipse cx="838" cy="771" rx="21.9" ry="18.8"/><ellipse cx="850" cy="580" rx="21.9" ry="18.8"/><ellipse cx="862" cy="548" rx="21.9" ry="18.8"/><ellipse cx="871" cy="764" rx="21.9" ry="18.8"/><ellipse cx="883" cy="821" rx="21.9" ry="18.8"/><ellipse cx="895" cy="786" rx="21.9" ry="18.8"/><ellipse cx="907" cy="266" rx="21.9" ry="18.8"/><ellipse cx="919" cy="843" rx="21.9" ry="18.8"/><ellipse cx="928" cy="234" rx="21.9" ry="18.8"/><ellipse cx="940" cy="594" rx="21.9" ry="18.8"/><ellipse cx="952" cy="605" rx="21.9" ry="18.8"/><ellipse cx="964" cy="142" rx="21.9" ry="18.8"/><ellipse cx="976" cy="893" rx="21.9" ry="18.8"/><ellipse cx="985" cy="1003" rx="21.9" ry="18.8"/><ellipse cx="997" cy="493" rx="21.9" ry="18.8"/><ellipse cx="1009" cy="697" rx="21.9" ry="18.8"/><ellipse cx="1021" cy="550" rx="21.9" ry="18.8"/><ellipse cx="1033" cy="762" rx="21.9" ry="18.8"/><ellipse cx="1042" cy="772" rx="21.9" ry="18.8"/><ellipse cx="1054" cy="661" rx="21.9" ry="18.8"/><ellipse cx="1066" cy="742" rx="21.9" ry="18.8"/><ellipse cx="1078" cy="733" rx="21.9" ry="18.8"/><ellipse cx="1087" cy="923" rx="21.9" ry="18.8"/><ellipse cx="1099" cy="70" rx="21.9" ry="18.8"/><ellipse cx="1111" cy="591" rx="21.9" ry="18.8"/><ellipse cx="1123" cy="673" rx="21.9" ry="18.8"/><ellipse cx="1135" cy="1198" rx="21.9" ry="18.8"/><ellipse cx="1144" cy="619" rx="21.9" ry="18.8"/><ellipse cx="1156" cy="830" rx="21.9" ry="18.8"/><ellipse cx="1168" cy="1435" rx="21.9" ry="18.8"/><ellipse cx="1180" cy="1067" rx="21.9" ry="18.8"/><ellipse cx="1192" cy="561" rx="21.9" ry="18.8"/><ellipse cx="1201" cy="838" rx="21.9" ry="18.8"/><ellipse cx="1213" cy="926" rx="21.9" ry="18.8"/><ellipse cx="1225" cy="1214" rx="21.9" ry="18.8"/><ellipse cx="1237" cy="1072" rx="21.9" ry="18.8"/><ellipse cx="1249" cy="1157" rx="21.9" ry="18.8"/><ellipse cx="1258" cy="676" rx="21.9" ry="18.8"/><ellipse cx="1270" cy="1069" rx="21.9" ry="18.8"/><ellipse cx="1282" cy="540" rx="21.9" ry="18.8"/><ellipse cx="1294" cy="1131" rx="21.9" ry="18.8"/><ellipse cx="1306" cy="951" rx="21.9" ry="18.8"/><ellipse cx="1315" cy="514" rx="21.9" ry="18.8"/><ellipse cx="1327" cy="780" rx="21.9" ry="18.8"/><ellipse cx="1337" cy="797" rx="21.9" ry="18.8"/><ellipse cx="1345" cy="655" rx="21.9" ry="18.8"/><ellipse cx="1350" cy="915" rx="21.9" ry="18.8"/>
</g>
<g transform="translate(2535 880) scale(0.333333)">
<circle cx="22" cy="108" r="21.9"/><circle cx="34" cy="1230" r="21.9"/><circle cx="45" cy="521" r="21.9"/><circle cx="58" cy="768" r="21.9"/><circle cx="67" cy="714" r="21.9"/><circle cx="79" cy="652" r="21.9"/><circle cx="91" cy="519" r="21.9"/><circle cx="103" cy="582" r="21.9"/><circle cx="115" cy="222" r="21.9"/><circle cx="124" cy="1432" r="21.9"/><circle cx="136" cy="1162" r="21.9"/><circle cx="148" cy="1270" r="21.9"/><circle cx="160" cy="790" r="21.9"/><circle cx="172" cy="930" r="21.9"/><circle cx="182" cy="913" r="21.9"/><circle cx="193" cy="414" r="21.9"/><circle cx="205" cy="825" r="21.9"/><circle cx="217" cy="891" r="21.9"/><circle cx="229" cy="955" r="21.9"/><circle cx="238" cy="454" r="21.9"/><circle cx="250" cy="616" r="21.9"/><circle cx="262" cy="661" r="21.9"/><circle cx="274" cy="1342" r="21.9"/><circle cx="283" cy="855" r="21.9"/><circle cx="295" cy="1228" r="21.9"/><circle cx="307" cy="1047" r="21.9"/><circle cx="319" cy="1052" r="21.9"/><circle cx="331" cy="1459" r="21.9"/><circle cx="340" cy="1029" r="21.9"/><circle cx="352" cy="816" r="21.9"/><circle cx="364" cy="1389" r="21.9"/><circle cx="376" cy="891" r="21.9"/><circle cx="388" cy="528" r="21.9"/><circle cx="397" cy="835" r="21.9"/><circle cx="409" cy="465" r="21.9"/><circle cx="421" cy="175" r="21.9"/><circle cx="433" cy="967" r="21.9"/><circle cx="445" cy="1506" r="21.9"/><circle cx="454" cy="847" r="21.9"/><circle cx="466" cy="1060" r="21.9"/><circle cx="478" cy="1090" r="21.9"/><circle cx="490" cy="1240" r="21.9"/><circle cx="499" cy="852" r="21.9"/><circle cx="511" cy="1017" r="21.9"/><circle cx="523" cy="1036" r="21.9"/><circle cx="535" cy="1093" r="21.9"/><circle cx="547" cy="1197" r="21.9"/><circle cx="556" cy="1326" r="21.9"/><circle cx="568" cy="1146" r="21.9"/><circle cx="580" cy="801" r="21.9"/><circle cx="604" cy="918" r="21.9"/><circle cx="613" cy="855" r="21.9"/><circle cx="625" cy="565" r="21.9"/><circle cx="637" cy="757" r="21.9"/><circle cx="649" cy="825" r="21.9"/><circle cx="661" cy="1025" r="21.9"/><circle cx="670" cy="936" r="21.9"/><circle cx="682" cy="838" r="21.9"/><circle cx="694" cy="763" r="21.9"/><circle cx="706" cy="538" r="21.9"/><circle cx="718" cy="471" r="21.9"/><circle cx="727" cy="751" r="21.9"/><circle cx="739" cy="996" r="21.9"/><circle cx="751" cy="1456" r="21.9"/><circle cx="763" cy="1203" r="21.9"/><circle cx="772" cy="1307" r="21.9"/><circle cx="784" cy="1380" r="21.9"/><circle cx="796" cy="998" r="21.9"/><circle cx="808" cy="522" r="21.9"/><circle cx="820" cy="843" r="21.9"/><circle cx="829" cy="796" r="21.9"/><circle cx="841" cy="1212" r="21.9"/><circle cx="853" cy="825" r="21.9"/><circle cx="865" cy="1266" r="21.9"/><circle cx="877" cy="1125" r="21.9"/><circle cx="886" cy="757" r="21.9"/><circle cx="898" cy="1178" r="21.9"/><circle cx="910" cy="1200" r="21.9"/><circle cx="934" cy="1200" r="21.9"/><circle cx="943" cy="897" r="21.9"/><circle cx="967" cy="920" r="21.9"/><circle cx="979" cy="1176" r="21.9"/><circle cx="1000" cy="901" r="21.9"/><circle cx="1012" cy="1194" r="21.9"/><circle cx="1024" cy="1293" r="21.9"/><circle cx="1045" cy="1305" r="21.9"/><circle cx="1080" cy="1500" r="21.9"/><circle cx="1112" cy="1505" r="21.9"/>
</g>
<g transform="translate(2535 1380) scale(0.333333)">
<circle cx="922" cy="78" r="21.9"/><circle cx="955" cy="147" r="21.9"/><circle cx="991" cy="175" r="21.9"/><circle cx="1069" cy="199" r="21.9"/><circle cx="592" cy="337" r="21.9"/><circle cx="1057" cy="343" r="21.9"/><circle cx="1102" cy="388" r="21.9"/><circle cx="1093" cy="505" r="21.9"/><circle cx="1122" cy="1137" r="21.9"/>
</g>
</g>
<g stroke="#222" stroke-width="1.8" fill="none">
<rect x="290" y="361.7" width="2620" height="1688.3"/>
<path d="M282.7 570.7H290M282.7 862.1H290M282.7 1153.5H290M282.7 1444.9H290M282.7 1736.3H290M282.7 2027.7H290"/>
<path d="M290 2050V2057.3M593.4 2050V2057.3M896.8 2050V2057.3M1200.2 2050V2057.3M1503.6 2050V2057.3M1807 2050V2057.3M2110.4 2050V2057.3M2413.8 2050V2057.3M2717.2 2050V2057.3"/>
</g>
<g font-family="'DejaVu Sans','Liberation Sans',sans-serif" fill="#000">
<text x="1600" y="166" font-size="100" text-anchor="middle">RMH-HMB109</text>
<text x="1600" y="278.3" font-size="100" text-anchor="middle">Star 6979</text>
<g font-size="85" text-anchor="end">
<text x="276" y="604.7">14.4</text>
<text x="276" y="896.1">14.5</text>
<text x="276" y="1187.5">14.6</text>
<text x="276" y="1478.9">14.7</text>
<text x="276" y="1770.3">14.8</text>
<text x="276" y="2061.7">14.9</text>
</g>
<g font-size="85" text-anchor="middle">
<text x="290" y="2128.5">0</text>
<text x="593.4" y="2128.5">80</text>
<text x="896.8" y="2128.5">160</text>
<text x="1200.2" y="2128.5">240</text>
<text x="1503.6" y="2128.5">320</text>
<text x="1807" y="2128.5">400</text>
<text x="2110.4" y="2128.5">480</text>
<text x="2413.8" y="2128.5">560</text>
<text x="2717.2" y="2128.5">640</text>
</g>
<text x="1600" y="2292.7" font-size="83.3" text-anchor="middle">All obs, one after the other</text>
</g>
</svg>
</body></html>
